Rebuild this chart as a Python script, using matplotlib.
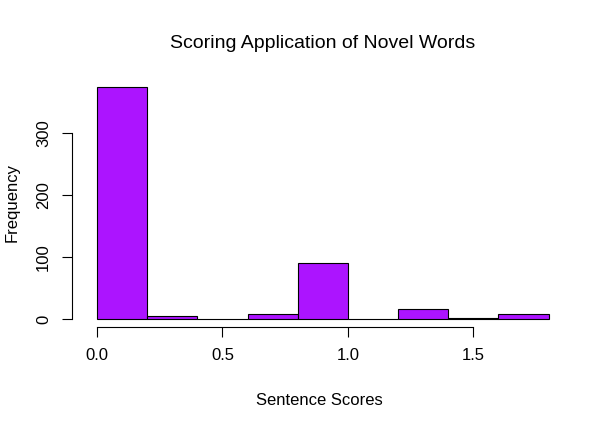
import matplotlib
matplotlib.use("Agg")
from matplotlib import pyplot as plt
import numpy as np

plt.rcParams['font.family'] = ['Liberation Sans', 'DejaVu Sans']

# histogram bins and counts
bin_edges = [0.0, 0.2, 0.4, 0.6, 0.8, 1.0, 1.2, 1.4, 1.6, 1.8]
counts = [374, 5, 1, 8, 90, 0, 17, 2, 8]

W, H = 609, 426
fig = plt.figure(figsize=(W / 100, H / 100), dpi=100)
ax = fig.add_axes([72 / W, 1 - 327 / H, (567 - 72) / W, (327 - 78) / H])

ax.bar(bin_edges[:-1], counts, width=np.diff(bin_edges), align='edge',
       color='#AC14FF', edgecolor='black', linewidth=0.8)

ax.set_xlim(-0.0996, 1.873)
ax.set_ylim(-12.5, 388)

for s in ['top', 'right']:
    ax.spines[s].set_visible(False)
ax.spines['left'].set_bounds(0, 300)
ax.spines['bottom'].set_bounds(0, 1.5)

ax.set_xticks([0, 0.5, 1.0, 1.5])
ax.set_xticklabels(['0.0', '0.5', '1.0', '1.5'])
ax.set_yticks([0, 100, 200, 300])
ax.set_yticklabels(['0', '100', '200', '300'], rotation=90, va='center')
ax.tick_params(direction='out', length=7, labelsize=12, pad=8)

ax.set_xlabel('Sentence Scores', fontsize=12, labelpad=22)
ax.set_ylabel('Frequency', fontsize=12, labelpad=12)
fig.text(0.53, 1 - 44 / H, 'Scoring Application of Novel Words',
         ha='center', va='center', fontsize=14)

fig.savefig('out.png', dpi=100)
